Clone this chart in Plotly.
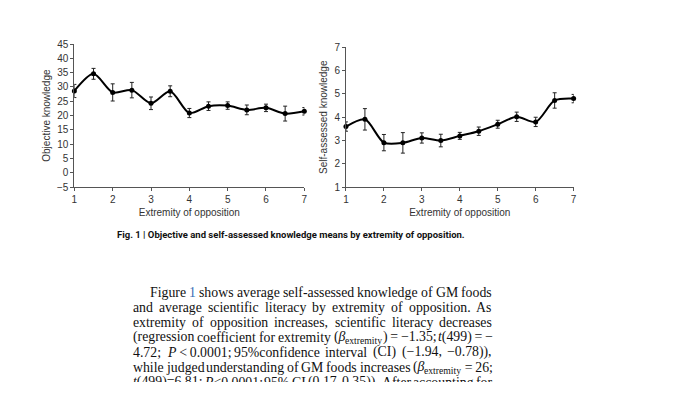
import re
import plotly.graph_objects as go

# ---- data ----
extremity = [1, 1.5, 2, 2.5, 3, 3.5, 4, 4.5, 5, 5.5, 6, 6.5, 7]
objective_mean = [28.6, 34.6, 28.1, 28.9, 24.3, 28.5, 20.9, 23.3, 23.5, 22.0, 22.7, 20.7, 21.5]
objective_err = [2.3, 1.9, 3.0, 2.7, 2.2, 1.9, 1.6, 1.5, 1.3, 1.7, 1.3, 2.6, 1.3]
self_mean = [3.6, 3.91, 2.91, 2.9, 3.11, 3.0, 3.2, 3.4, 3.7, 4.02, 3.8, 4.72, 4.8]
self_err = [0.2, 0.46, 0.35, 0.44, 0.22, 0.27, 0.15, 0.18, 0.17, 0.2, 0.2, 0.33, 0.18]
x_ticks = [1, 2, 3, 4, 5, 6, 7]
obj_ticks = list(range(-5, 50, 5))
self_ticks = [1, 2, 3, 4, 5, 6, 7]

caption = "Fig. 1 | Objective and self-assessed knowledge means by extremity of opposition."
para_lines = [
    "Figure <span style='color:#3b6fb6'>1</span> shows average self-assessed knowledge of GM foods",
    "and average scientific literacy by extremity of opposition. As",
    "extremity of opposition increases, scientific literacy decreases",
    "(regression coefficient for extremity (<i>β</i><sub>extremity</sub>)\u2009=\u2009−1.35; <i>t</i>(499)\u2009=\u2009−",
    "4.72; <i>P</i>\u2009<\u20090.0001; 95%confidence interval (CI) (−1.94, −0.78)),",
    "while judged understanding of GM foods increases (<i>β</i><sub>extremity</sub>\u2009=\u200926;",
    "<i>t</i>(499)=6.81; <i>P</i><0.0001; 95% CI (0.17, 0.35)). After accounting for",
]

W, H = 680, 382  # page below the figure is blank; the last text line is cut like the reference
def px(x):
    return x / W
def py(y):
    return 1 - y / H

fig = go.Figure()
common = dict(mode="lines+markers", line=dict(color="black", width=2, shape="spline", smoothing=0.8),
              marker=dict(color="black", size=5), cliponaxis=False, showlegend=False)
fig.add_trace(go.Scatter(x=extremity, y=objective_mean,
                         error_y=dict(type="data", array=objective_err, color="#222", thickness=1, width=2),
                         xaxis="x", yaxis="y", **common))
fig.add_trace(go.Scatter(x=extremity, y=self_mean,
                         error_y=dict(type="data", array=self_err, color="#222", thickness=1, width=2),
                         xaxis="x2", yaxis="y2", **common))

axfont = dict(family="Liberation Sans, Arial, sans-serif", size=10, color="#333")
xcommon = dict(range=[1, 7], tickvals=x_ticks, showline=True, linecolor="#555", linewidth=1,
               ticks="outside", ticklen=3, tickcolor="#555", showgrid=False, zeroline=False,
               tickfont=axfont, title=dict(text="Extremity of opposition", font=axfont, standoff=4))
ycommon = dict(showline=True, linecolor="#555", linewidth=1, ticks="outside", ticklen=3,
               tickcolor="#555", showgrid=False, zeroline=False, tickfont=axfont)

fig.update_layout(
    width=W, height=H, margin=dict(l=0, r=0, t=0, b=0),
    paper_bgcolor="white", plot_bgcolor="white",
    xaxis=dict(domain=[px(72), px(304)], anchor="y", **xcommon),
    yaxis=dict(domain=[py(187), py(39.3)], anchor="x", range=[-5, 45], tickvals=obj_ticks,
               title=dict(text="Objective knowledge", font=axfont, standoff=4), **ycommon),
    xaxis2=dict(domain=[px(346), px(575.7)], anchor="y2", **xcommon),
    yaxis2=dict(domain=[py(187), py(42.7)], anchor="x2", range=[1, 7], tickvals=self_ticks,
                title=dict(text="Self-assessed knowledge", font=axfont, standoff=4), **ycommon),
)

annotations = [dict(text="<b>" + caption + "</b>", x=px(114), y=py(236), xref="paper", yref="paper",
                    xanchor="left", yanchor="middle", showarrow=False, borderpad=0,
                    font=dict(family="Liberation Sans Narrow, Roboto, Liberation Sans, sans-serif",
                              size=9.5, color="#111"))]

# --- justified paragraph: approximate Times metrics (per 1000 em) ---
TW = {' ': 250, '%': 833, '(': 333, ')': 333, ',': 250, '-': 333, '.': 250, ';': 278, ':': 278,
      '<': 564, '=': 564, '−': 564, 'β': 500, '\u2009': 167}
for c in '0123456789':
    TW[c] = 500
TW.update(dict(zip('ABCDEFGHIJKLMNOPQRSTUVWXYZ',
                   [722, 667, 667, 722, 611, 556, 722, 722, 333, 389, 722, 611, 889, 722, 722, 556,
                    722, 667, 556, 611, 722, 722, 944, 722, 722, 611])))
TW.update(dict(zip('abcdefghijklmnopqrstuvwxyz',
                   [444, 500, 444, 500, 444, 333, 500, 500, 278, 278, 500, 278, 778, 500, 500, 500,
                    500, 333, 389, 278, 500, 500, 722, 500, 500, 444])))
FS = 13.8
SUB = 0.7

def segments(word):
    segs = []
    for part in re.split(r'(<sub>.*?</sub>)', word):
        if not part:
            continue
        if part.startswith('<sub>'):
            segs.append((part[5:-6], FS * SUB, 3.5, 1.0))
        else:
            segs.append((part, FS, 0.0, 0.0))
    return segs

def seg_width(text, size):
    plain = re.sub(r'<[^>]+>', '', text)
    return sum(TW.get(ch, 500) for ch in plain) * size / 1000.0

LEFT, RIGHT = 130, 492
line_y0, line_dy = 295.5, 15.5
for i, line in enumerate(para_lines):
    x_start = 147 if i == 0 else LEFT
    words = re.split(r' (?![^<]*>)', line)
    wsegs = [segments(w) for w in words]
    widths = [sum(seg_width(t, s) + pad for t, s, _, pad in sg) for sg in wsegs]
    gap = (RIGHT - x_start - sum(widths)) / (len(words) - 1)
    x = x_start
    yc = line_y0 + line_dy * i
    for sg, ww in zip(wsegs, widths):
        sx = x
        for t, s, dy, pad in sg:
            annotations.append(dict(text=t, x=px(sx), y=py(yc + dy), xref="paper", yref="paper",
                                    xanchor="left", yanchor="middle", showarrow=False, borderpad=0,
                                    font=dict(family="Liberation Serif, Times New Roman, serif",
                                              size=s, color="#111")))
            sx += seg_width(t, s) + pad
        x += ww + gap
fig.update_layout(annotations=annotations)

fig.write_html("out.html", config={"displayModeBar": False},
               post_script="document.body.style.margin='0';document.body.style.overflow='hidden';")
